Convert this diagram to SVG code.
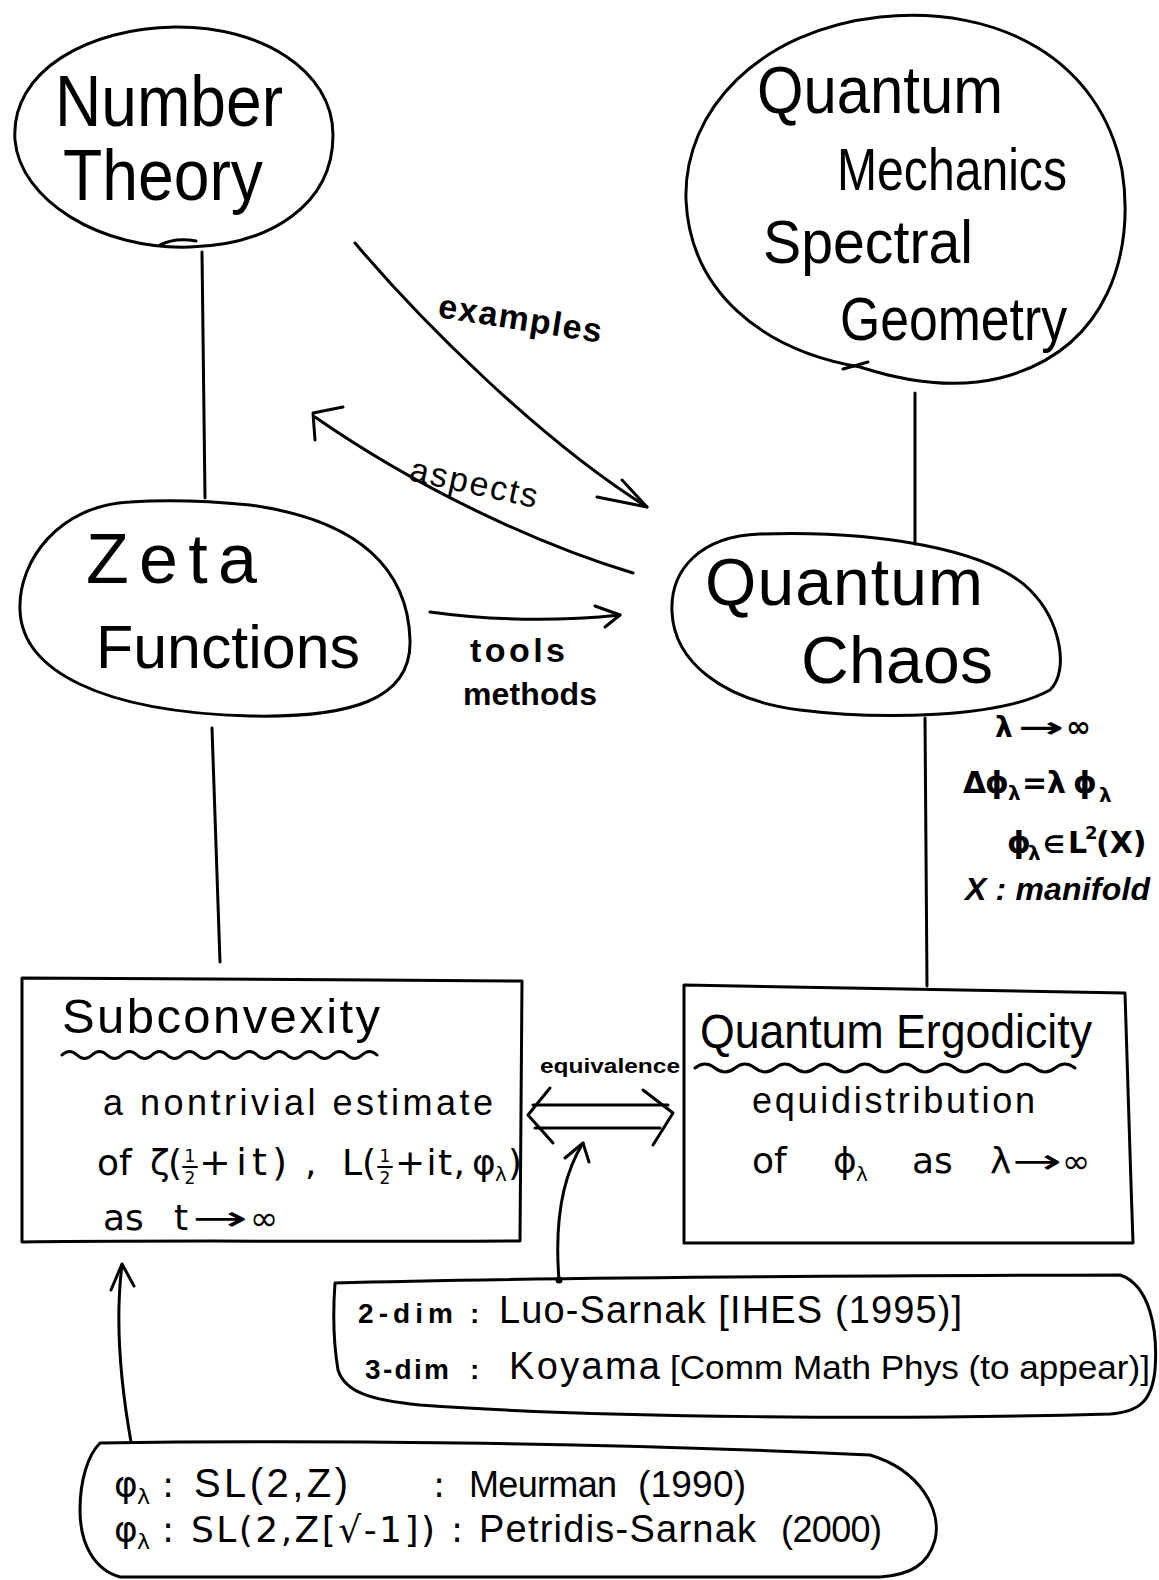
<svg xmlns="http://www.w3.org/2000/svg" width="1159" height="1580" viewBox="0 0 1159 1580">
<style>
.ln{fill:none;stroke:#000;stroke-width:3;stroke-linecap:round;stroke-linejoin:round}
.t{font-family:"Liberation Sans","DejaVu Sans",sans-serif;fill:#000}
.m{font-family:"DejaVu Sans","Liberation Sans",sans-serif;fill:#000}
.b{font-weight:bold}
</style>
<rect width="1159" height="1580" fill="#fff"/>
<g id="connectors">
<path class="ln" d="M202,252 L205,498"/>
<path class="ln" d="M212,728 L220,962"/>
<path class="ln" d="M915,393 L915,544"/>
<path class="ln" d="M925,718 L927,986"/>
<path class="ln" d="M355,243 C420,320 540,440 647,507"/>
<polyline class="ln" points="597,497 647,507 622,480"/>
<path class="ln" d="M633,573 C540,545 420,490 315,417"/>
<polyline class="ln" points="343,407 313,413 315,440"/>
<path class="ln" d="M430,612 Q525,625 620,615"/>
<polyline class="ln" points="595,606 620,615 605,627"/>
<path class="ln" d="M533,1105 L668,1105 M535,1128 L660,1128"/>
<polyline class="ln" points="550,1088 528,1115 553,1143"/>
<polyline class="ln" points="643,1090 673,1113 653,1145"/>
<path class="ln" d="M559,1280 C555,1230 560,1180 583,1143"/>
<polyline class="ln" points="565,1158 583,1143 589,1162"/>
<circle cx="559" cy="1280" r="3.5" fill="#000"/>
<path class="ln" d="M131,1442 C120,1380 115,1320 122,1265"/>
<polyline class="ln" points="111,1290 122,1264 134,1286"/>
<text class="t b" x="437" y="317" font-size="34" textLength="165" transform="rotate(9 437 317)">examples</text>
<text class="t" x="408" y="480" font-size="34" textLength="130" transform="rotate(12.4 408 480)">aspects</text>
<text class="t b" x="470" y="662" font-size="34" textLength="95">tools</text>
<text class="t b" x="463" y="705" font-size="32" textLength="134">methods</text>
<text class="t b" x="540" y="1073" font-size="20" textLength="140" lengthAdjust="spacingAndGlyphs">equivalence</text>
</g>
<g id="number-theory">
<path class="ln" d="M190,247 C100,250 20,200 15,140 C10,70 90,28 175,27 C260,26 333,70 333,135 C333,205 270,245 190,247"/>
<path class="ln" d="M196,241 Q175,237 160,245"/>
<text class="t" x="55" y="126" font-size="72" textLength="228" lengthAdjust="spacingAndGlyphs">Number</text>
<text class="t" x="63" y="200" font-size="72" textLength="200" lengthAdjust="spacingAndGlyphs">Theory</text>
</g>
<g id="quantum-mechanics">
<path class="ln" d="M860,367 C760,350 690,290 686,200 C683,110 760,30 880,17 C1000,5 1100,60 1122,170 C1135,250 1110,350 1000,378 C950,390 900,380 860,367"/>
<path class="ln" d="M843,369 L868,362"/>
<text class="t" x="757" y="113" font-size="66" textLength="246" lengthAdjust="spacingAndGlyphs">Quantum</text>
<text class="t" x="837" y="190" font-size="60" textLength="230" lengthAdjust="spacingAndGlyphs">Mechanics</text>
<text class="t" x="763" y="263" font-size="62" textLength="210" lengthAdjust="spacingAndGlyphs">Spectral</text>
<text class="t" x="840" y="340" font-size="62" textLength="227" lengthAdjust="spacingAndGlyphs">Geometry</text>
</g>
<g id="zeta-functions">
<path class="ln" d="M130,502 C60,505 18,560 20,610 C22,670 100,712 250,716 C350,718 412,700 410,640 C408,570 360,520 250,505 C200,500 160,500 130,502 Z"/>
<text class="t" x="86" y="583" font-size="70" textLength="171">Zeta</text>
<text class="t" x="96" y="668" font-size="62" textLength="264" lengthAdjust="spacingAndGlyphs">Functions</text>
</g>
<g id="quantum-chaos">
<path class="ln" d="M760,534 C700,536 670,570 672,612 C674,660 720,700 800,710 C880,720 1000,718 1050,690 C1070,670 1060,620 1030,590 C990,550 880,530 760,534 Z"/>
<text class="t" x="705" y="605" font-size="66" textLength="278">Quantum</text>
<text class="t" x="801" y="683" font-size="66" textLength="192">Chaos</text>
</g>
<g id="eigen-notes">
<text class="m b" x="995" y="737" font-size="28">λ</text>
<text class="m b" x="1018" y="737" font-size="28" textLength="46" lengthAdjust="spacingAndGlyphs">→</text>
<text class="m b" x="1066" y="737" font-size="30">∞</text>
<text class="m b" y="793" font-size="30"><tspan x="963">Δ</tspan><tspan x="985">ϕ</tspan><tspan x="1008" dy="7" font-size="20">λ</tspan><tspan x="1022" dy="-7">=</tspan><tspan x="1047">λ</tspan><tspan x="1073">ϕ</tspan><tspan x="1099" dy="9" font-size="20">λ</tspan></text>
<text class="m b" y="853" font-size="30"><tspan x="1007">ϕ</tspan><tspan x="1028" dy="7" font-size="20">λ</tspan><tspan x="1043" dy="-7" font-size="24">∈</tspan><tspan x="1068">L</tspan><tspan x="1085" dy="-14" font-size="18">2</tspan><tspan x="1096" dy="14">(X)</tspan></text>
<text class="t b" x="965" y="900" font-size="32" font-style="italic" textLength="185">X : manifold</text>
</g>
<g id="subconvexity">
<path class="ln" d="M22,978 C150,980 350,979 522,981 L520,1241 C350,1242 150,1240 22,1242 Z"/>
<path class="ln" d="M62,1055 q7.5,-7 15,0 t15,0 t15,0 t15,0 t15,0 t15,0 t15,0 t15,0 t15,0 t15,0 t15,0 t15,0 t15,0 t15,0 t15,0 t15,0 t15,0 t15,0 t15,0 t15,0 t15,0"/>
<text class="t" x="62" y="1033" font-size="49" textLength="318">Subconvexity</text>
<text class="t" x="103" y="1115" font-size="36" textLength="390">a nontrivial estimate</text>
<text class="m" y="1175" font-size="36"><tspan x="97">of</tspan><tspan x="150">ζ</tspan><tspan x="168">(</tspan><tspan x="305">,</tspan><tspan x="342">L</tspan><tspan x="362">(</tspan><tspan x="472">φ</tspan><tspan x="495" dy="6" font-size="20">λ</tspan><tspan x="508" dy="-6">)</tspan></text>
<text class="m" x="199" y="1175" font-size="38" textLength="88">+it)</text>
<text class="m" x="395" y="1175" font-size="36" textLength="70">+it,</text>
<text class="m" x="190" y="1162" font-size="17" text-anchor="middle">1</text>
<path class="ln" d="M183,1167 L197,1167 M378,1167 L392,1167" style="stroke-width:2"/>
<text class="m" x="190" y="1184" font-size="17" text-anchor="middle">2</text>
<text class="m" x="385" y="1162" font-size="17" text-anchor="middle">1</text>
<text class="m" x="385" y="1184" font-size="17" text-anchor="middle">2</text>
<text class="m" x="103" y="1230" font-size="36">as</text>
<text class="m" x="174" y="1230" font-size="36">t</text>
<text class="m" x="192" y="1230" font-size="34" textLength="56" lengthAdjust="spacingAndGlyphs">→</text>
<text class="m" x="250" y="1230" font-size="34">∞</text>
</g>
<g id="quantum-ergodicity">
<path class="ln" d="M684,985 C850,988 1000,990 1125,993 C1128,1080 1130,1160 1133,1243 C1000,1244 850,1243 684,1243 Z"/>
<path class="ln" d="M695,1068 q10,-8 20,0 t20,0 t20,0 t20,0 t20,0 t20,0 t20,0 t20,0 t20,0 t20,0 t20,0 t20,0 t20,0 t20,0 t20,0 t20,0 t20,0 t20,0 t20,0"/>
<text class="t" x="700" y="1048" font-size="48" textLength="392" lengthAdjust="spacingAndGlyphs">Quantum Ergodicity</text>
<text class="t" x="752" y="1113" font-size="36" textLength="283">equidistribution</text>
<text class="m" y="1173" font-size="36"><tspan x="752">of</tspan><tspan x="833">ϕ</tspan><tspan x="856" dy="8" font-size="20">λ</tspan><tspan x="912" dy="-8">as</tspan><tspan x="990">λ</tspan></text>
<text class="m" x="1012" y="1173" font-size="34" textLength="50" lengthAdjust="spacingAndGlyphs">→</text>
<text class="m" x="1062" y="1173" font-size="34">∞</text>
</g>
<g id="luo-sarnak">
<path class="ln" d="M335,1283 C500,1278 800,1276 1120,1275 C1150,1285 1158,1330 1155,1370 C1152,1400 1140,1412 1110,1414 C900,1420 600,1418 420,1405 C370,1400 345,1392 338,1370 C333,1340 333,1310 335,1283 Z"/>
<text class="t b" x="358" y="1323" font-size="28" textLength="95">2-dim</text>
<text class="t b" x="470" y="1323" font-size="28">:</text>
<text class="t" x="499" y="1323" font-size="38" textLength="463">Luo-Sarnak [IHES (1995)]</text>
<text class="t b" x="365" y="1379" font-size="28" textLength="84">3-dim</text>
<text class="t b" x="470" y="1379" font-size="28">:</text>
<text class="t" x="509" y="1379" font-size="38" textLength="151">Koyama</text>
<text class="t" x="670" y="1379" font-size="34" textLength="480" lengthAdjust="spacingAndGlyphs">[Comm Math Phys (to appear)]</text>
</g>
<g id="meurman-petridis">
<path class="ln" d="M100,1443 C300,1440 600,1442 870,1455 C920,1470 942,1510 935,1540 C928,1565 910,1575 880,1577 L120,1577 C95,1570 80,1545 80,1510 C80,1480 88,1455 100,1443 Z"/>
<text class="m" y="1497" font-size="36"><tspan x="114">φ</tspan><tspan x="137" dy="7" font-size="22">λ</tspan><tspan x="162" dy="-7">:</tspan><tspan x="433">:</tspan></text>
<text class="t" x="194" y="1497" font-size="40" textLength="154">SL(2,Z)</text>
<text class="t" x="469" y="1497" font-size="36" textLength="148">Meurman</text>
<text class="t" x="638" y="1497" font-size="37" textLength="108">(1990)</text>
<text class="m" y="1542" font-size="36"><tspan x="114">φ</tspan><tspan x="137" dy="7" font-size="22">λ</tspan><tspan x="162" dy="-7">:</tspan><tspan x="451">:</tspan></text>
<text class="m" x="191" y="1542" font-size="36" textLength="244">SL(2,Z[√-1])</text>
<text class="t" x="479" y="1542" font-size="38" textLength="277">Petridis-Sarnak</text>
<text class="t" x="781" y="1542" font-size="36" textLength="101">(2000)</text>
</g>
</svg>
